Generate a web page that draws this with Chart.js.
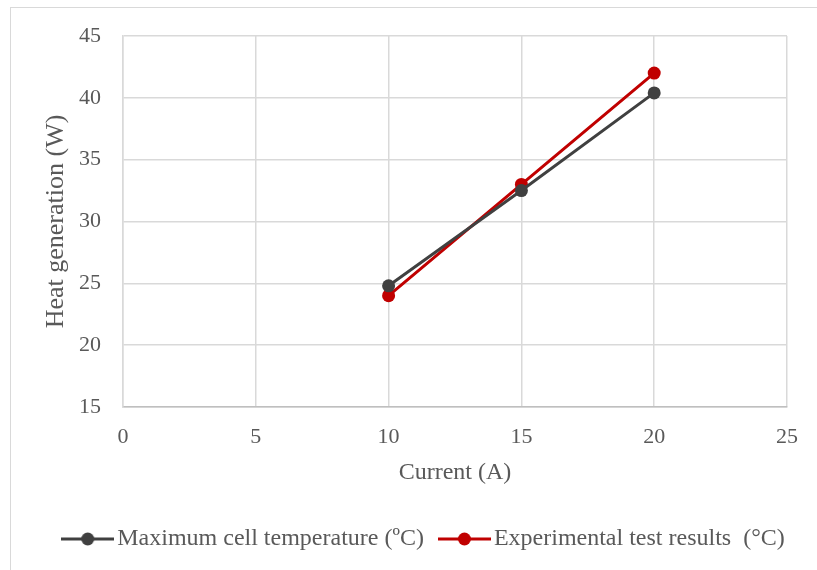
<!DOCTYPE html>
<html>
<head>
<meta charset="utf-8">
<script src="https://cdn.jsdelivr.net/npm/chart.js@4"></script>
<style>
    html, body { margin: 0; padding: 0; background: #fff; overflow: hidden; }
    #frame { position: absolute; left: 10px; top: 7px; width: 830px; height: 590px; border: 1px solid #d9d9d9; }
    #wrap { position: absolute; left: 0; top: 0; width: 817px; height: 570px; }
</style>
</head>
<body>
<div id="frame"></div>
<div id="wrap"><canvas id="heatChart" width="817" height="570"></canvas></div>
<script>
// values
const currents = [10, 15, 20];
const maxCellTemp = [24.8, 32.5, 40.4];
const experimental = [24.0, 33.0, 42.0];
const seriesNames = ['Maximum cell temperature (ºC)', 'Experimental test results  (°C)'];
const seriesColors = ['#404040', '#C00000'];

const xTicks = [0, 5, 10, 15, 20, 25];
const yTicks = [15, 20, 25, 30, 35, 40, 45];

const textColor = '#595959';
const serif = "'Liberation Serif', 'Times New Roman', serif";

// little line + dot picture for the legend
function legendMarker(color) {
    const c = document.createElement('canvas');
    c.width = 53;
    c.height = 16;
    const ctx = c.getContext('2d');
    ctx.strokeStyle = color;
    ctx.lineWidth = 3;
    ctx.beginPath();
    ctx.moveTo(0, 8);
    ctx.lineTo(53, 8);
    ctx.stroke();
    ctx.fillStyle = color;
    ctx.beginPath();
    ctx.arc(26.5, 8, 6.5, 0, Math.PI * 2);
    ctx.fill();
    return c;
}

function toPoints(ys) {
    return currents.map((x, i) => ({ x: x, y: ys[i] }));
}

const allSeries = [maxCellTemp, experimental];

const chart = new Chart(document.getElementById('heatChart'), {
    type: 'line',
    data: {
        datasets: allSeries.map((vals, i) => ({
            label: seriesNames[i],
            data: toPoints(vals),
            borderColor: seriesColors[i],
            backgroundColor: seriesColors[i],
            borderWidth: 3,
            pointRadius: 6.5,
            pointHoverRadius: 6.5,
            pointBorderWidth: 0,
            tension: 0,
            fill: false
        }))
    },
    options: {
        responsive: false,
        animation: false,
        layout: { padding: { left: 38, right: 0, top: 36, bottom: 9 } },
        plugins: {
            tooltip: { enabled: false },
            legend: {
                position: 'bottom',
                labels: {
                    usePointStyle: true,
                    pointStyleWidth: 35,
                    padding: 23,
                    color: textColor,
                    font: { family: serif, size: 24 },
                    generateLabels: (ch) => ch.data.datasets.map((ds, i) => ({
                        text: ds.label,
                        fillStyle: ds.borderColor,
                        strokeStyle: ds.borderColor,
                        lineWidth: 0,
                        pointStyle: legendMarker(ds.borderColor),
                        fontColor: textColor,
                        hidden: false,
                        datasetIndex: i
                    }))
                }
            }
        },
        scales: {
            x: {
                type: 'linear',
                min: xTicks[0],
                max: xTicks[xTicks.length - 1],
                afterBuildTicks: (s) => { s.ticks = xTicks.map(v => ({ value: v })); },
                afterFit: (s) => { s.height = 97; },
                grid: { color: '#d9d9d9', lineWidth: 1.5, drawTicks: false },
                border: { color: '#bfbfbf', width: 1.5 },
                ticks: { padding: 17, color: textColor, font: { family: serif, size: 22 } },
                title: {
                    display: true,
                    text: 'Current (A)',
                    color: textColor,
                    font: { family: serif, size: 24 },
                    padding: { top: 0, bottom: 17 }
                }
            },
            y: {
                type: 'linear',
                min: yTicks[0],
                max: yTicks[yTicks.length - 1],
                afterBuildTicks: (s) => { s.ticks = yTicks.map(v => ({ value: v })); },
                afterFit: (s) => { s.width = 85; },
                grid: { color: '#d9d9d9', lineWidth: 1.5, drawTicks: false },
                border: { color: '#d9d9d9', width: 1.5 },
                ticks: { padding: 22, color: textColor, font: { family: serif, size: 22 } },
                title: {
                    display: true,
                    text: 'Heat generation (W)',
                    color: textColor,
                    font: { family: serif, size: 26 },
                    padding: { top: 3, bottom: 0 }
                }
            },
            // empty axis on the right, only to leave the gap Excel leaves there
            yRight: {
                type: 'linear',
                position: 'right',
                display: true,
                afterFit: (s) => { s.width = 30; },
                grid: { display: false },
                border: { display: false },
                ticks: { display: false }
            }
        }
    }
});
</script>
</body>
</html>
